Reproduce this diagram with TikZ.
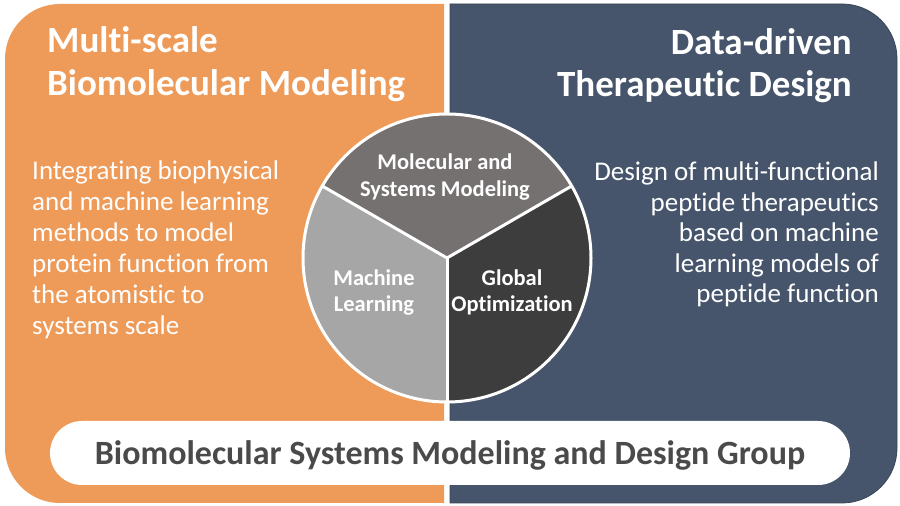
\documentclass[tikz,border=0pt]{standalone}
\usepackage{fontspec}
\setmainfont[Ligatures=NoCommon]{Carlito}
\definecolor{orangec}{HTML}{EE9A58}
\definecolor{bluec}{HTML}{46556B}
\definecolor{topc}{HTML}{767171}
\definecolor{leftc}{HTML}{A6A6A6}
\definecolor{rightc}{HTML}{3D3D3D}
\definecolor{groupc}{HTML}{4A4A4A}
\tikzset{
  titletext/.style={text=white, inner sep=0pt, font=\bfseries\fontsize{37}{44}\selectfont},
  bodytext/.style={text=white, inner sep=0pt, font=\fontsize{27}{31}\selectfont},
  sectortext/.style={text=white, inner sep=0pt, font=\bfseries\fontsize{22.5}{27}\selectfont},
  grouptext/.style={text=groupc, inner sep=0pt, font=\bfseries\fontsize{34}{40}\selectfont},
  divider/.style={white, line width=3pt}
}
\begin{document}
\begin{tikzpicture}[x=1pt,y=1pt]
\useasboundingbox (0,0) rectangle (900,506);
\fill[white] (0,0) rectangle (900,506);
% panels
\fill[orangec] (444,3) -- (444,502) -- (60,502) arc[start angle=90,end angle=180,radius=55]
  -- (5,58) arc[start angle=180,end angle=270,radius=55] -- cycle;
\filldraw[fill=bluec, draw=bluec!80!black, line width=0.8pt] (450,3) -- (450,502) -- (842,502) arc[start angle=90,end angle=0,radius=55]
  -- (897,58) arc[start angle=0,end angle=-90,radius=55] -- cycle;
% titles
\node[titletext, anchor=base west] (lt1) at (47,453) {Multi-scale};
\node[titletext, anchor=base west] (lt2) at (47,410) {Biomolecular Modeling};
\node[titletext, anchor=base east] (rt1) at (852,451) {Data-driven};
\node[titletext, anchor=base east] (rt2) at (852,409) {Therapeutic Design};
% left body
\foreach \t [count=\i from 0] in {Integrating biophysical, and machine learning, methods to model, protein function from, the atomistic to, systems scale}
  \node[bodytext, anchor=base west] (lb\i) at (32,{326-31*\i}) {\t};
% right body
\foreach \t [count=\i from 0] in {Design of multi-functional, peptide therapeutics, based on machine, learning models of, peptide function}
  \node[bodytext, anchor=base east] (rb\i) at (879,{325-30.5*\i}) {\t};
% circle
\coordinate (c) at (447,248);
\fill[topc] (c) -- ++(30:144) arc[start angle=30,end angle=150,radius=144] -- cycle;
\fill[leftc] (c) -- ++(150:144) arc[start angle=150,end angle=270,radius=144] -- cycle;
\fill[rightc] (c) -- ++(-90:144) arc[start angle=-90,end angle=30,radius=144] -- cycle;
\draw[divider] (c) -- ++(30:144);
\draw[divider] (c) -- ++(150:144);
\draw[divider] (c) -- ++(270:144);
\draw[divider] (c) circle[radius=144];
% sector labels
\node[sectortext, anchor=base] (s1a) at (445,336) {Molecular and};
\node[sectortext, anchor=base] (s1b) at (445,309.5) {Systems Modeling};
\node[sectortext, anchor=base] (s2a) at (374,220) {Machine};
\node[sectortext, anchor=base] (s2b) at (374,194.5) {Learning};
\node[sectortext, anchor=base] (s3a) at (512,220) {Global};
\node[sectortext, anchor=base] (s3b) at (512,194.5) {Optimization};
% bottom bar
\fill[white, rounded corners=32] (50,21) rectangle (850,85);
\node[grouptext, anchor=base] (grp) at (450,41) {Biomolecular Systems Modeling and Design Group};
\end{tikzpicture}
\end{document}
